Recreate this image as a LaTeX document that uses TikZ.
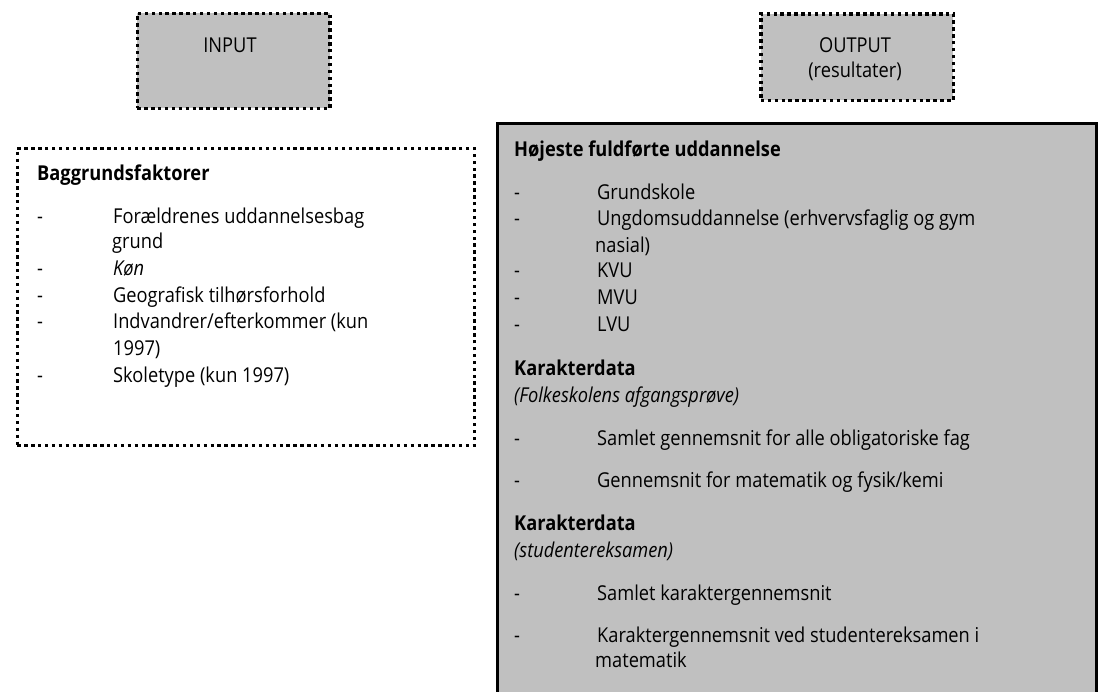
\documentclass[tikz,border=0pt]{standalone}
\usepackage{fontspec}
\setmainfont{Open Sans}[FakeStretch=0.89]
\definecolor{boxgray}{HTML}{C0C0C0}
\begin{document}
\begin{tikzpicture}[x=1pt,y=-1pt,
    dotbox/.style={draw,fill=boxgray,line width=3.6pt,dash pattern=on 3.4pt off 3.5pt,
      inner sep=0pt,anchor=north west},
    txt/.style={inner sep=0pt,anchor=base west},
    every node/.style={font=\fontsize{20.5}{24}\selectfont}]
  \useasboundingbox (0,0) rectangle (1102,691);
  \clip (0,0) rectangle (1102,691);
  % top boxes
  \node[dotbox,minimum width=192.5pt,minimum height=95pt] (input) at (135.5,11.5) {};
  \node[txt,anchor=base] (inlbl) at (230,52) {INPUT};
  \node[dotbox,minimum width=192.5pt,minimum height=86.5pt] (output) at (759,12) {};
  \node[txt,anchor=base] (outlbl) at (855,52) {OUTPUT};
  \node[txt,anchor=base] (outsub) at (855,77) {(resultater)};
  % background factors
  \node[dotbox,fill=white,minimum width=457pt,minimum height=297pt] (bag) at (15.5,146.5) {};
  \node[txt] (baghd) at (37,180) {\textbf{Baggrundsfaktorer}};
  \foreach \yy/\t [count=\i] in {223/Forældrenes uddannelsesbag, 275/\textit{Køn},
      302/Geografisk tilhørsforhold, 328/{Indvandrer/efterkommer (kun}, 382/Skoletype (kun 1997)}{
    \node[txt] (bagd\i) at (37,\yy) {-};
    \node[txt] (bag\i) at (113,\yy) {\t};
  }
  \node[txt] (bagc1) at (112,248) {grund};
  \node[txt] (bagc2) at (113,355) {1997)};
  % results
  \node[draw,fill=boxgray,line width=3.2pt,inner sep=0pt,anchor=north west,
    minimum width=599.5pt,minimum height=600pt] (res) at (495.5,122) {};
  \node[txt] (reshd1) at (514,156) {\textbf{Højeste fuldførte uddannelse}};
  \foreach \yy/\t [count=\i] in {199/Grundskole, 225/Ungdomsuddannelse (erhvervsfaglig og gym,
      277/KVU, 304/MVU, 331/LVU}{
    \node[txt] (resd\i) at (514,\yy) {-};
    \node[txt] (res\i) at (597,\yy) {\t};
  }
  \node[txt] (resc1) at (595,252) {nasial)};
  \node[txt] (reshd2) at (514,375) {\textbf{Karakterdata}};
  \node[txt] (ressub2) at (514,402) {\textit{(Folkeskolens afgangsprøve)}};
  \foreach \yy/\t [count=\i from 6] in {445/Samlet gennemsnit for alle obligatoriske fag,
      487/{Gennemsnit for matematik og fysik/kemi}}{
    \node[txt] (resd\i) at (514,\yy) {-};
    \node[txt] (res\i) at (597,\yy) {\t};
  }
  \node[txt] (reshd3) at (514,530) {\textbf{Karakterdata}};
  \node[txt] (ressub3) at (514,557) {\textit{(studentereksamen)}};
  \foreach \yy/\t [count=\i from 8] in {600/Samlet karaktergennemsnit,
      642/Karaktergennemsnit ved studentereksamen i}{
    \node[txt] (resd\i) at (514,\yy) {-};
    \node[txt] (res\i) at (597,\yy) {\t};
  }
  \node[txt] (resc2) at (595,667) {matematik};
\end{tikzpicture}
\end{document}
